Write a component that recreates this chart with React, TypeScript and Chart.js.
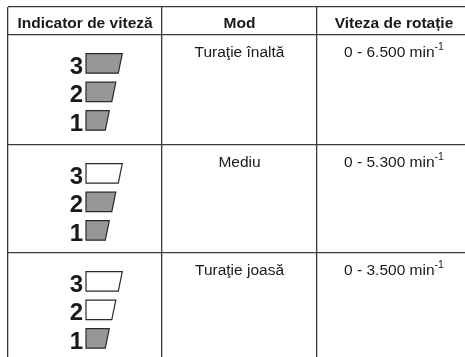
import React, { useEffect, useRef } from "react";
import { Chart, registerables } from "chart.js";

Chart.register(...registerables);

// ---- data ----
const headers = ["Indicator de viteză", "Mod", "Viteza de rotație"];
const modes = ["Turaţie înaltă", "Mediu", "Turaţie joasă"];
const speeds = ["0 - 6.500", "0 - 5.300", "0 - 3.500"];
const speedUnit = "min";
const speedExponent = "-1";
const indicatorLevels = [3, 2, 1];
const litLevels = [3, 2, 1]; // highest lit segment for each mode

// ---- layout (in scale units = pixels inside chart area) ----
const colEdges = [0, 154, 309];
const colCenters = [77, 231.5, 386];
const rowEdges = [0, 28, 138, 246];
const X_MAX = 457;
const Y_MAX = 350;

const FONT = "Arial, 'Liberation Sans', sans-serif";

const tablePlugin = {
  id: "tablePlugin",
  afterDraw(chart: any) {
    const ctx = chart.ctx;
    const xs = chart.scales.x;
    const ys = chart.scales.y;
    const px = (v: number) => xs.getPixelForValue(v);
    const py = (v: number) => ys.getPixelForValue(v);
    ctx.save();
    ctx.fillStyle = "#1a1a1a";
    ctx.textBaseline = "alphabetic";

    // headers
    ctx.font = `bold 15.5px ${FONT}`;
    ctx.textAlign = "center";
    headers.forEach((h, i) => {
      ctx.fillText(h, px(colCenters[i]), py(rowEdges[0] + 21.4));
    });

    modes.forEach((m, r) => {
      const top = rowEdges[r + 1];
      // mode
      ctx.font = `15.5px ${FONT}`;
      ctx.textAlign = "center";
      ctx.fillStyle = "#1a1a1a";
      ctx.fillText(m, px(colCenters[1]), py(top + 21.6));

      // speed with superscript
      const main = speeds[r] + " " + speedUnit;
      ctx.font = `15.5px ${FONT}`;
      const wMain = ctx.measureText(main).width;
      ctx.font = `10.5px ${FONT}`;
      const wExp = ctx.measureText(speedExponent).width;
      const total = wMain + wExp;
      const start = px(colCenters[2]) - total / 2;
      ctx.textAlign = "left";
      ctx.font = `15.5px ${FONT}`;
      ctx.fillText(main, start, py(top + 21.6));
      ctx.font = `10.5px ${FONT}`;
      ctx.fillText(speedExponent, start + wMain, py(top + 15.2));

      // indicator
      indicatorLevels.forEach((lvl, i) => {
        const sTop = top + 18.7 + i * 28.5;
        const sBot = sTop + 19.5;
        const topW = 16.8 + 6.5 * lvl;
        const left = 78;
        const slant = 4;
        ctx.beginPath();
        ctx.moveTo(px(left), py(sTop));
        ctx.lineTo(px(left + topW), py(sTop));
        ctx.lineTo(px(left + topW - slant), py(sBot));
        ctx.lineTo(px(left), py(sBot));
        ctx.closePath();
        ctx.fillStyle = lvl <= litLevels[r] ? "#979797" : "#ffffff";
        ctx.fill();
        ctx.strokeStyle = "#2a2a2a";
        ctx.lineWidth = 1.2;
        ctx.stroke();

        ctx.fillStyle = "#1a1a1a";
        ctx.font = `bold 24px ${FONT}`;
        ctx.textAlign = "right";
        ctx.fillText(String(lvl), px(75), py(sBot + 0.3));
      });
    });
    ctx.restore();
  },
};

export default function App() {
  const ref = useRef<HTMLCanvasElement | null>(null);
  useEffect(() => {
    document.body.style.margin = "0";
    const chart = new Chart(ref.current as HTMLCanvasElement, {
      type: "scatter",
      data: { datasets: [{ data: [] }] },
      options: {
        animation: false,
        responsive: true,
        maintainAspectRatio: false,
        layout: { padding: { left: 8, top: 7, right: 0, bottom: 0 } },
        plugins: { legend: { display: false }, tooltip: { enabled: false } },
        scales: {
          x: {
            type: "linear",
            min: 0,
            max: X_MAX,
            border: { display: false },
            ticks: { display: false },
            grid: { color: "#3a3a3a", lineWidth: 1.3, drawTicks: false },
            afterBuildTicks: (s: any) => {
              s.ticks = colEdges.map((v) => ({ value: v }));
            },
          },
          y: {
            type: "linear",
            reverse: true,
            min: 0,
            max: Y_MAX,
            border: { display: false },
            ticks: { display: false },
            grid: { color: "#3a3a3a", lineWidth: 1.3, drawTicks: false },
            afterBuildTicks: (s: any) => {
              s.ticks = rowEdges.map((v) => ({ value: v }));
            },
          },
        },
      },
      plugins: [tablePlugin],
    } as any);
    return () => chart.destroy();
  }, []);
  return (
    <div style={{ position: "absolute", left: 0, top: 0, width: 465, height: 357, background: "#fff" }}>
      <canvas ref={ref} />
    </div>
  );
}
